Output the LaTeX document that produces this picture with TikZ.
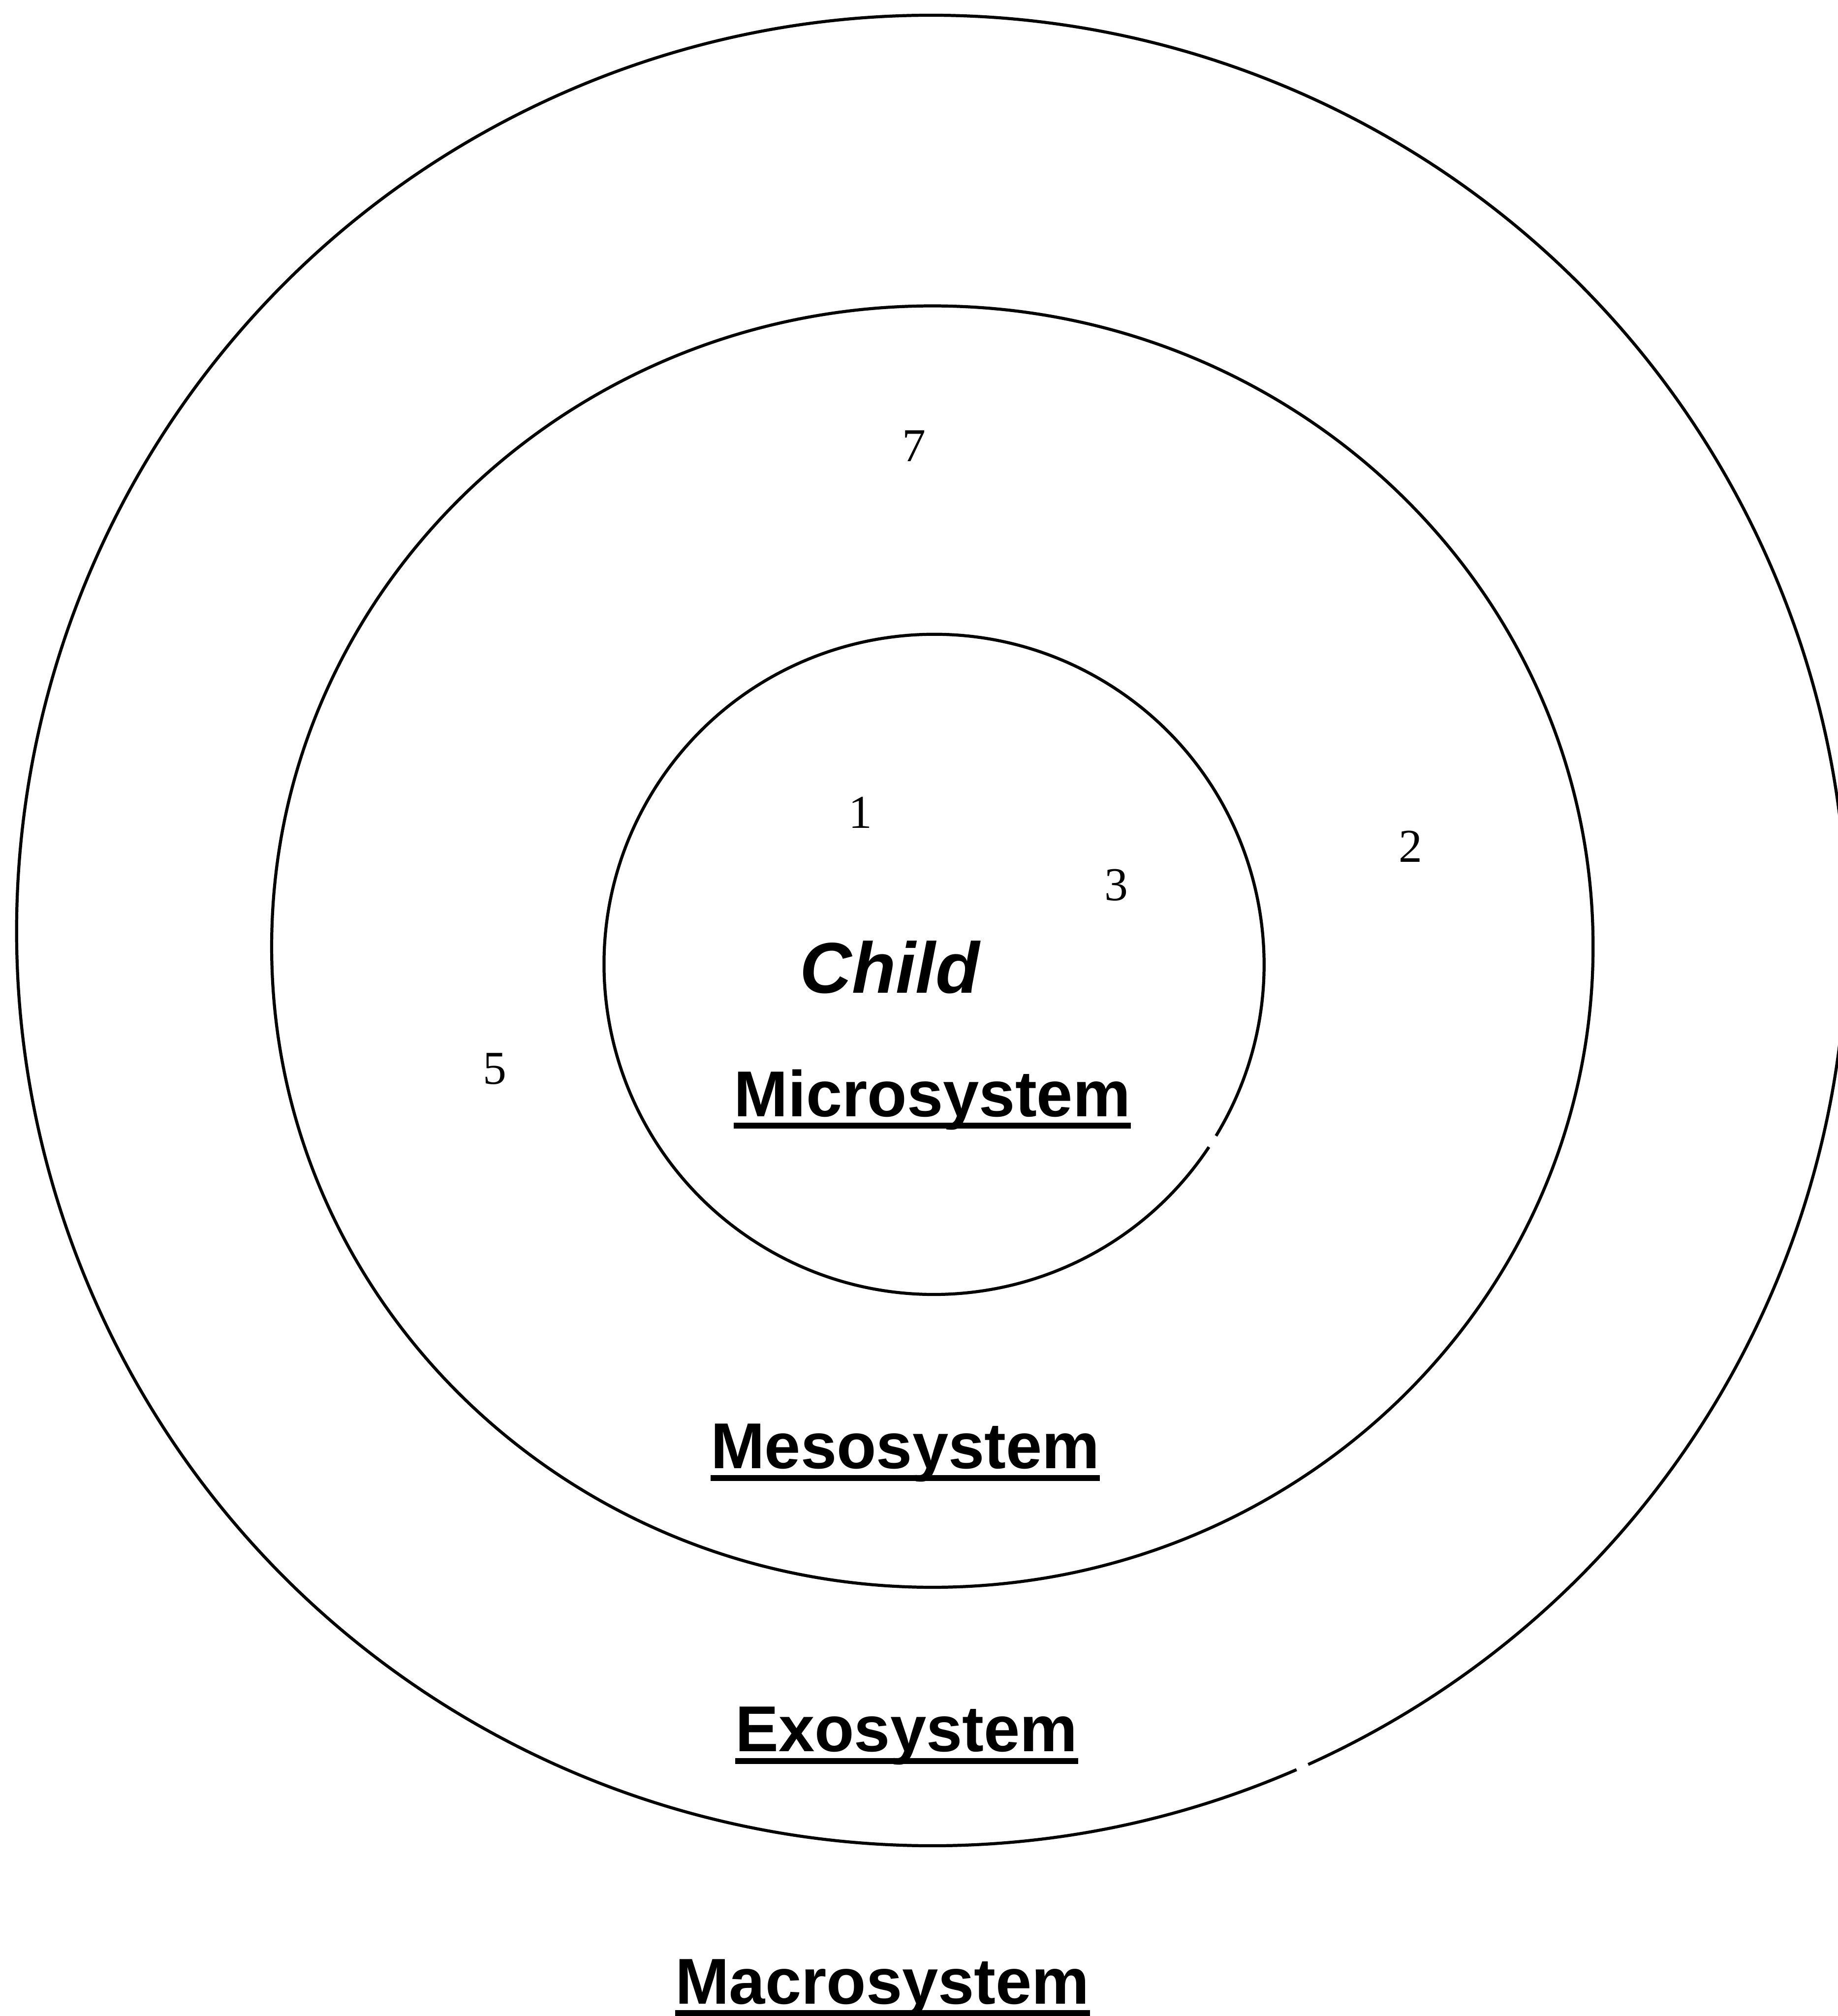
\documentclass[tikz,border=0pt]{standalone}
\usepackage{fontspec}
\setmainfont{Liberation Serif}
\newfontfamily\labelfont{Liberation Sans}
\usepackage{tikz}

\tikzset{
  ring/.style={line width=2.6pt},
  num/.style={font=\fontsize{40}{44}\selectfont, inner sep=0pt},
  sysname/.style={font=\labelfont\bfseries\fontsize{55}{60}\selectfont, inner sep=0pt, anchor=base},
  uline/.style={line width=5.2pt}
}

\begin{document}
\begin{tikzpicture}
\useasboundingbox (0,0) rectangle (54.79,60.10);
% the three rings
\draw [ring] (27.78,32.36) ++(-65.7:27.28) arc [start angle=-65.7, end angle=293.5, radius=27.28];
\draw [ring] (27.80,31.88) ellipse [x radius=19.70, y radius=19.10];
\draw [ring] (27.85,31.35) ++(-31.3:9.84) arc [start angle=-31.3, end angle=326.4, radius=9.84];
% numbers
\node [num] (seven) at (27.26,46.80) {7};
\node [num] (one) at (25.65,35.87) {1};
\node [num] (three) at (33.28,33.72) {3};
\node [num] (two) at (42.06,34.87) {2};
\node [num] (five) at (14.76,28.24) {5};
% labels
\node [sysname, font=\labelfont\bfseries\itshape\fontsize{61}{66}\selectfont] (child) at (26.53,30.50) {Child};
\node [sysname] (micro) at (27.80,26.82) {Microsystem};
\node [sysname] (meso) at (26.99,16.32) {Mesosystem};
\node [sysname] (exo) at (27.03,7.88) {Exosystem};
\node [sysname] (macro) at (26.31,0.36) {Macrosystem};
\foreach \n in {micro,meso,exo,macro}
  \draw [uline] ([yshift=-0.28cm]\n.base west) -- ([yshift=-0.28cm]\n.base east);
%\draw (27.80,31.88) -- (27.80,12.78);
\end{tikzpicture}
\end{document}
